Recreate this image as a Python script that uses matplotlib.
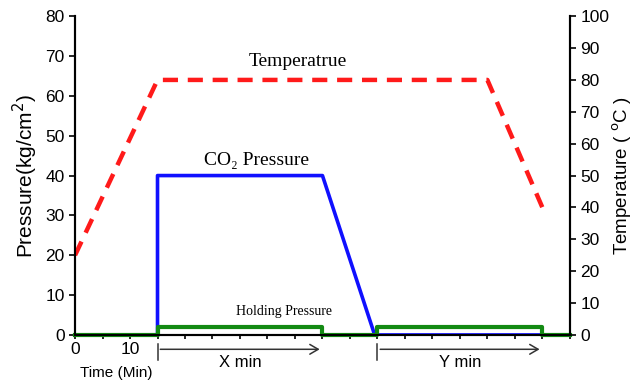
import matplotlib.pyplot as plt

# time points (min) and values
co2_time = [15, 15, 45, 54.5, 85]
co2_pressure = [0, 40, 40, 0, 0]

hold_time = [0, 15, 15, 45, 45, 55, 55, 85, 85, 90]
hold_pressure = [0, 0, 2, 2, 0, 0, 2, 2, 0, 0]

temp_time = [0, 15, 75, 85]
temp_values = [25, 80, 80, 40]

# bracket spans below the axis
spans = [(15, 45, "X min"), (55, 85, "Y min")]

plt.rcParams['font.family'] = ['Liberation Sans', 'DejaVu Sans']

fig = plt.figure(figsize=(6.36, 3.85), dpi=100)
ax = fig.add_axes([0.118, 0.13, 0.778, 0.828])
ax2 = ax.twinx()

ax.plot(co2_time, co2_pressure, color='#1010ff', lw=2.6, zorder=3)
ax.plot(hold_time, hold_pressure, color='#138a13', lw=3, zorder=4, clip_on=False)
ax2.plot(temp_time, temp_values, color='#ff1a1a', lw=3.2, ls=(0, (3.4, 2.2)))

ax.set_xlim(0, 90)
ax.set_ylim(0, 80)
ax2.set_ylim(0, 100)

ax.set_yticks(range(0, 81, 10))
ax2.set_yticks(range(0, 101, 10))
ax.set_xticks(range(0, 91, 5))
ax.set_xticklabels(['0', '', '10'] + [''] * 16)

for a in (ax, ax2):
    a.spines['top'].set_visible(False)
    a.tick_params(labelsize=12.5, width=1.2, length=4)
    for s in a.spines.values():
        s.set_linewidth(1.5)
ax.tick_params(axis='x', length=3, pad=2)

ax.set_ylabel('Pressure(kg/cm$^2$)', fontsize=15, labelpad=4)
ax2.set_ylabel('Temperature ( $^{\\mathrm{o}}$C )', fontsize=13.5, labelpad=1)
ax.text(7.5, -9.5, 'Time (Min)', ha='center', va='center', fontsize=11)

# annotations
serif = ['Liberation Serif', 'DejaVu Serif']
ax.text(40.5, 68.5, 'Temperatrue', family=serif, fontsize=14, ha='center', va='center')
ax.text(33, 43.8, 'CO\u2082 Pressure', family=serif, fontsize=14, ha='center', va='center')
ax.text(38, 5.8, 'Holding Pressure', family=serif, fontsize=10, ha='center', va='center')

for start, end, label in spans:
    ax.annotate('', xy=(end, -3.6), xytext=(start, -3.6),
                arrowprops=dict(arrowstyle='->,head_length=0.6,head_width=0.35',
                                color='#333333', lw=1.1),
                annotation_clip=False)
    ax.plot([start, start], [-2.2, -6.2], color='#333333', lw=1.1, clip_on=False)
    ax.text((start + end) / 2, -6.8, label, ha='center', va='center', fontsize=12)

fig.savefig('out.png', dpi=100)
